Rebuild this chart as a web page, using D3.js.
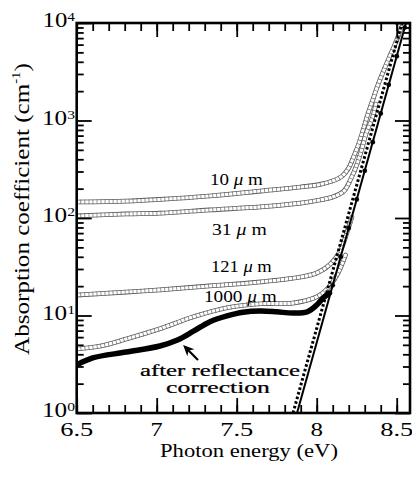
<!DOCTYPE html>
<html><head><meta charset="utf-8">
<script src="https://cdn.jsdelivr.net/npm/d3@7"></script>
<style>body{margin:0;background:#fff}svg{display:block}text{font-family:"Liberation Serif","Times New Roman",Tinos,"DejaVu Serif",serif}</style>
</head><body><svg id="c" width="412" height="477"></svg>
<script>
// ---------- data (photon energy eV, absorption coefficient cm^-1) ----------
const xMajorTicks = [6.5, 7, 7.5, 8, 8.5];
const xTickLabels = ["6.5", "7", "7.5", "8", "8.5"];
const xMinorTicks = [6.5,6.6,6.7,6.8,6.9,7.0,7.1,7.2,7.3,7.4,7.5,7.6,7.7,7.8,7.9,8.0,8.1,8.2,8.3,8.4,8.5];
const yExponents = [0, 1, 2, 3, 4];

const thick10um = [[6.50,146],[6.81,149],[7.02,155],[7.33,168],[7.65,189],[7.90,208],[8.02,221],[8.10,240],[8.16,270],[8.20,326],[8.23,422],[8.26,561],[8.29,799],[8.32,1170],[8.35,1620],[8.38,2260],[8.42,3300],[8.46,4700],[8.50,6690],[8.53,9100]];
const thick31um = [[6.50,105],[6.81,110],[7.02,112],[7.33,121],[7.65,130],[7.90,142],[8.02,153],[8.10,164],[8.17,189],[8.21,245],[8.25,350],[8.28,498],[8.31,744],[8.35,1086],[8.37,1476]];
const thick121um = [[6.50,16.2],[6.81,17.4],[7.02,18.3],[7.33,20.1],[7.65,22.1],[7.90,24.8],[8.00,27.3],[8.08,33.0],[8.15,47.0],[8.19,71.8],[8.22,102]];
const thick1000um = [[6.50,4.53],[6.65,4.87],[6.81,5.74],[7.02,7.3],[7.23,9.7],[7.44,12.0],[7.65,13.2],[7.85,13.4],[8.00,15.5],[8.06,18.3],[8.13,26.6],[8.18,41.7]];
const corrected = [[6.50,3.11],[6.60,3.67],[6.81,4.22],[7.02,4.87],[7.13,5.6],[7.23,6.9],[7.33,8.6],[7.44,9.9],[7.54,10.8],[7.65,11.1],[7.75,10.9],[7.85,10.6],[7.94,10.9],[8.00,12.8],[8.04,15.1],[8.08,17.0]];
const correctedEdge = [[8.10,20.4],[8.15,40.1],[8.20,78.9],[8.25,155],[8.30,305],[8.35,600],[8.40,1180],[8.45,2320],[8.50,4560],[8.55,8970]];
const fitCorrected = [[7.877,1],[8.558,10000]];
const fitTransmission = [[7.852,1],[8.533,10000]];
const curveLabels = [
  {num:"10", x0:210, base:185, w:53},
  {num:"31", x0:212, base:235, w:55},
  {num:"121", x0:211, base:272, w:61},
  {num:"1000", x0:204, base:302, w:73}
];
const arrowTail = [7.258, 3.50];
const arrowTip = [7.165, 4.98];

// ---------- layout ----------
const svg = d3.select("#c");
const L = 76.7, R = 410, T = 23, B = 413;
const x = d3.scaleLinear().domain([6.5, 8.583]).range([L, R]);
const y = d3.scaleLog().domain([1, 1e4]).range([B, T]);

svg.append("defs").append("clipPath").attr("id","plot")
  .append("rect").attr("x",L).attr("y",T).attr("width",R-L).attr("height",B-T);

const g = svg.append("g").attr("clip-path","url(#plot)");
const line = d3.line().x(d=>x(d[0])).y(d=>y(d[1])).curve(d3.curveCatmullRom.alpha(0.5));
const straight = d3.line().x(d=>x(d[0])).y(d=>y(d[1]));

// open-circle chains (transmission data)
function chain(data){
  const p = line(data);
  g.append("path").attr("d",p).attr("fill","none").attr("stroke","#5a5a5a").attr("stroke-width",4.7).attr("stroke-linecap","round");
  g.append("path").attr("d",p).attr("fill","none").attr("stroke","#fff").attr("stroke-width",3.1).attr("stroke-linecap","round");
  g.append("path").attr("d",p).attr("fill","none").attr("stroke","#6a6a6a").attr("stroke-width",4.7).attr("stroke-dasharray","0.7 3.3");
}
[thick10um, thick31um, thick121um, thick1000um].forEach(chain);

// fit lines
g.append("path").attr("d",straight(fitTransmission)).attr("fill","none").attr("stroke","#000").attr("stroke-width",3).attr("stroke-dasharray","2.6 2.2");
g.append("path").attr("d",straight(fitCorrected)).attr("fill","none").attr("stroke","#000").attr("stroke-width",2);

// corrected curve
g.append("path").attr("d",line(corrected)).attr("fill","none").attr("stroke","#000").attr("stroke-width",5.5).attr("stroke-linecap","round");
g.selectAll("circle.ce").data(correctedEdge).join("circle").attr("class","ce")
  .attr("cx",d=>x(d[0])).attr("cy",d=>y(d[1])).attr("r",2.4).attr("fill","#000");

// ---------- axes ----------
function styleAxis(a){ a.select(".domain").remove(); a.selectAll(".tick line").attr("stroke","#000").attr("stroke-width",1.8); a.selectAll("text").remove(); }
const yMinor = [];
for (let k=0;k<4;k++) for (let m=2;m<=9;m++) yMinor.push(m*Math.pow(10,k));
const yMajor = yExponents.map(e=>Math.pow(10,e));

svg.append("g").attr("transform",`translate(0,${B})`).call(d3.axisBottom(x).tickValues(xMinorTicks).tickSize(-8)).call(styleAxis);
svg.append("g").attr("transform",`translate(0,${B})`).call(d3.axisBottom(x).tickValues(xMajorTicks).tickSize(-15)).call(styleAxis);
svg.append("g").attr("transform",`translate(0,${T})`).call(d3.axisTop(x).tickValues(xMinorTicks).tickSize(-8)).call(styleAxis);
svg.append("g").attr("transform",`translate(0,${T})`).call(d3.axisTop(x).tickValues(xMajorTicks).tickSize(-14)).call(styleAxis);
svg.append("g").attr("transform",`translate(${L},0)`).call(d3.axisLeft(y).tickValues(yMinor).tickSize(-7)).call(styleAxis);
svg.append("g").attr("transform",`translate(${L},0)`).call(d3.axisLeft(y).tickValues(yMajor).tickSize(-15)).call(styleAxis);
svg.append("g").attr("transform",`translate(${R},0)`).call(d3.axisRight(y).tickValues(yMinor).tickSize(-7)).call(styleAxis);
svg.append("g").attr("transform",`translate(${R},0)`).call(d3.axisRight(y).tickValues(yMajor).tickSize(-15)).call(styleAxis);

svg.append("rect").attr("x",L).attr("y",T).attr("width",R-L).attr("height",B-T)
  .attr("fill","none").attr("stroke","#000").attr("stroke-width",2.6);

// stretch helpers
function stretch(t, sx, cx){ t.attr("transform",`translate(${cx},0) scale(${sx},1) translate(${-cx},0)`); }
function fitW(t, w, cx){ const bw = t.node().getBBox().width; stretch(t, w/bw, cx); }

// x tick labels
xMajorTicks.forEach((v,i)=>{
  const t = svg.append("text").attr("x",x(v)).attr("y",436).attr("text-anchor","middle")
    .attr("font-size",19.5).attr("fill","#000").text(xTickLabels[i]);
  fitW(t, xTickLabels[i].length === 1 ? 12.5 : 33, x(v));
});
// y tick labels
yExponents.forEach(e=>{
  const t = svg.append("text").attr("x",75).attr("y",y(Math.pow(10,e))+4.5).attr("text-anchor","end")
    .attr("font-size",21).attr("fill","#000");
  t.append("tspan").text("10");
  t.append("tspan").attr("font-size",13).attr("dy",-6).text(String(e));
  fitW(t, 33, 75);
});

// axis titles
const xt = svg.append("text").attr("x",249).attr("y",457).attr("text-anchor","middle")
  .attr("font-size",19.5).attr("fill","#000").text("Photon energy (eV)");
fitW(xt, 178, 249);

const yt = svg.append("text").attr("font-size",22).attr("fill","#000").attr("text-anchor","middle");
yt.append("tspan").text("Absorption coefficient (cm");
yt.append("tspan").attr("font-size",13).attr("dy",-9).text("-1");
yt.append("tspan").attr("dy",9).text(")");
{
  const bw = yt.node().getBBox().width;
  yt.attr("transform",`translate(29,209) rotate(-90) scale(${292/bw},1)`);
}

// curve labels
curveLabels.forEach(c=>{
  const t = svg.append("text").attr("x",c.x0).attr("y",c.base).attr("font-size",16.5).attr("fill","#000");
  t.append("tspan").text(c.num+" ");
  t.append("tspan").attr("font-style","italic").text("\u03bc");
  t.append("tspan").text(" m");
  fitW(t, c.w, c.x0);
});

// corrected annotation
const a1 = svg.append("text").attr("x",220).attr("y",376).attr("text-anchor","middle")
  .attr("font-size",16.5).attr("fill","#000").attr("stroke","#000").attr("stroke-width",0.25).text("after reflectance");
fitW(a1, 160, 220);
const a2 = svg.append("text").attr("x",218).attr("y",393).attr("text-anchor","middle")
  .attr("font-size",16.5).attr("fill","#000").attr("stroke","#000").attr("stroke-width",0.25).text("correction");
fitW(a2, 104, 218);

// arrow
{
  const tx = x(arrowTail[0]), ty = y(arrowTail[1]), px = x(arrowTip[0]), py = y(arrowTip[1]);
  const dx = px-tx, dy = py-ty, len = Math.hypot(dx,dy), ux = dx/len, uy = dy/len, nx = -uy, ny = ux;
  const hl = 11, hw = 5;
  svg.append("line").attr("x1",tx).attr("y1",ty).attr("x2",px-ux*6).attr("y2",py-uy*6).attr("stroke","#000").attr("stroke-width",2.2);
  const pts = [[px,py],[px-ux*hl+nx*hw, py-uy*hl+ny*hw],[px-ux*hl*0.7, py-uy*hl*0.7],[px-ux*hl-nx*hw, py-uy*hl-ny*hw]];
  svg.append("polygon").attr("points",pts.map(p=>p.join(",")).join(" ")).attr("fill","#000");
}
</script></body></html>
